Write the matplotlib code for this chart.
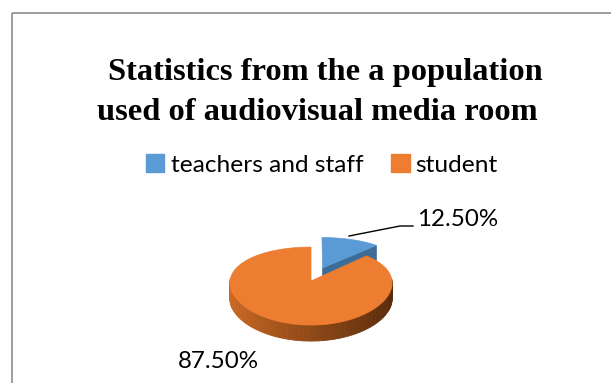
import numpy as np
import matplotlib.pyplot as plt
from matplotlib.patches import Polygon, Rectangle, Patch
from matplotlib.collections import PolyCollection
from matplotlib.colors import to_rgb

# Chart data
title_lines = ["Statistics from the a population", "used of audiovisual media room"]
categories = ["teachers and staff", "student"]
shares = [12.5, 87.5]
colors = ["#5b9bd5", "#ed7d31"]
side_colors = {"teachers and staff": "#3d6c99"}
explode = [0.38, 0.0]

# 3D pie layout (pixel space)
cx, cy = 311, 281
rx, ry = 81, 39
depth = 16
kx, ky = 0.05, 0.13


def proj(u, v, z=0.0):
    """Project a point of the unit disc to the screen with slight perspective."""
    x = cx + rx * u * (1 - kx * v)
    y = cy - ry * v * (1 - ky * v) + z
    return x, y


def lerp_color(c1, c2, t):
    a, b = np.array(to_rgb(c1)), np.array(to_rgb(c2))
    return tuple(a + (b - a) * t)


fig = plt.figure(figsize=(6.11, 3.83), dpi=100)
ax = fig.add_axes([0, 0, 1, 1])
ax.set_xlim(0, 611)
ax.set_ylim(383, 0)
ax.axis("off")

# chart area frame (runs off the right and bottom of the picture)
ax.add_patch(Rectangle((11.5, 13), 700, 500, fill=False, edgecolor="#8c8c8c", lw=1.2))

# title
ax.text(325, 80, title_lines[0], ha="center", va="baseline", fontsize=23.4,
        family="Liberation Serif", weight="bold")
ax.text(317, 120, title_lines[1], ha="center", va="baseline", fontsize=23.4,
        family="Liberation Serif", weight="bold")

# slice angles: start at 12 o'clock, go clockwise
total = sum(shares)
start = 90.0
slices = []
for name, val, col, ex in zip(categories, shares, colors, explode):
    sweep = 360.0 * val / total
    a0, a1 = start, start - sweep
    mid = np.radians((a0 + a1) / 2)
    off = (ex * np.cos(mid), ex * np.sin(mid))
    slices.append((name, a0, a1, col, off))
    start = a1

# draw back slice (teachers) first, then the big one
for name, a0, a1, col, (ou, ov) in slices:
    th = np.radians(np.linspace(a0, a1, 120))
    rim = [proj(ou + np.cos(t), ov + np.sin(t)) for t in th]
    apex = proj(ou, ov)

    # outer side, only the front half is visible
    quads, qcols = [], []
    for t0, t1 in zip(th[:-1], th[1:]):
        if np.sin(t0) > 0.02 and np.sin(t1) > 0.02:
            continue
        p0 = proj(ou + np.cos(t0), ov + np.sin(t0))
        p1 = proj(ou + np.cos(t1), ov + np.sin(t1))
        quads.append([p0, p1, (p1[0], p1[1] + depth), (p0[0], p0[1] + depth)])
        tt = (np.cos((t0 + t1) / 2) + 1) / 2
        qcols.append(lerp_color("#cc6a24", "#5a2c0c", tt ** 0.9))
    if quads:
        ax.add_collection(PolyCollection(quads, facecolors=qcols, edgecolors=qcols,
                                         linewidths=0.6))

    # radial face at the clockwise edge, visible when exploded
    if name in side_colors:
        end = np.radians(a1)
        pr = proj(ou + np.cos(end), ov + np.sin(end))
        face = [apex, pr, (pr[0], pr[1] + depth), (apex[0], apex[1] + depth)]
        ax.add_patch(Polygon(face, closed=True, facecolor=side_colors[name],
                             edgecolor=side_colors[name], lw=0.5))

    # top face
    ax.add_patch(Polygon([apex] + rim, closed=True, facecolor=col, edgecolor=col, lw=0.5))

# data labels
ax.plot([349, 400, 413], [236, 226, 226], color="black", lw=1)
ax.text(417, 220, f"{shares[0]:.2f}%", ha="left", va="center", fontsize=17.4, family="Lato")
ax.text(218, 362, f"{shares[1]:.2f}%", ha="center", va="center", fontsize=17.4, family="Lato")

# legend
handles = [Patch(facecolor=c, edgecolor=c) for c in colors]
ax.legend(handles, categories, loc="center", bbox_to_anchor=(322 / 611, 1 - 165 / 383),
          ncol=2, frameon=False, prop={"family": "Lato", "size": 17.6},
          handlelength=0.75, handleheight=0.75, handletextpad=0.25, columnspacing=1.15)

fig.savefig("out.png", dpi=100)
